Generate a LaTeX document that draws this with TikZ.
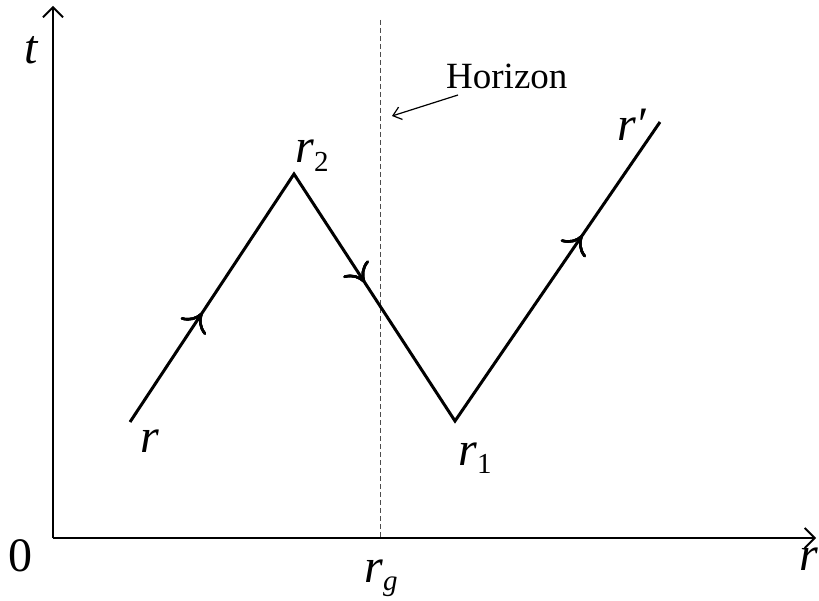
\documentclass[tikz,border=0pt]{standalone}
\usepackage{fontspec}
\setmainfont{Liberation Serif}
\usetikzlibrary{arrows.meta,decorations.markings}
\tikzset{
  axisline/.style={line width=1.8pt,-{Straight Barb[length=10pt,width=20pt,line width=1.8pt]}},
  traj/.style={line width=3pt,line join=miter},
  midtip/.style={decoration={markings,mark=at position #1 with {\arrow{Computer Modern Rightarrow[length=17pt,width=30pt,line width=2.6pt]}}},postaction={decorate}},
  horline/.style={line width=1pt,dash pattern=on 5pt off 3pt,draw=black!70},
  pointer/.style={line width=1.2pt,-{Straight Barb[length=8pt,width=13pt,line width=1.2pt]}},
  biglab/.style={font=\fontsize{48}{48}\selectfont,inner sep=0pt},
  midlab/.style={font=\fontsize{37}{37}\selectfont,inner sep=0pt}
}
\newcommand{\subsc}[1]{\raisebox{-0.18em}{\fontsize{29}{29}\selectfont #1}}
\begin{document}
\begin{tikzpicture}[x=1pt,y=-1pt]
\useasboundingbox (0,0) rectangle (819,601);
\coordinate (O) at (53,538);
\coordinate (ytop) at (53,6);
\coordinate (xend) at (816,538);
\coordinate (htop) at (380,20);
\coordinate (hbot) at (380,538);
\coordinate (A) at (130,422);
\coordinate (B) at (294,174);
\coordinate (C) at (455,421);
\coordinate (D) at (660,122);
\coordinate (p1) at (458,95);
\coordinate (p2) at (392,116);
\draw[horline] (htop) -- (hbot);
\draw[axisline] (O) -- (ytop);
\draw[axisline] (O) -- (xend);
\draw[traj,midtip=0.137,midtip=0.447,midtip=0.856] (A) -- (B) -- (C) -- (D);
\draw[pointer] (p1) -- (p2);
\node[biglab] (tl) at (32,50) {\textit{t}};
\node[biglab] (zl) at (21,556) {0};
\node[biglab] (rl) at (809,559) {\textit{r}};
\node[biglab,anchor=base west] (rgl) at (364,582) {\textit{r}\subsc{\textit{g}}};
\node[biglab,anchor=base west] (ral) at (140,452) {\textit{r}};
\node[biglab,anchor=base west] (r2l) at (295,163) {\textit{r}\subsc{2}};
\node[biglab,anchor=base west] (r1l) at (458,465) {\textit{r}\subsc{1}};
\node[biglab,anchor=base west] (rpl) at (617,141) {\textit{r′}};
\node[midlab,anchor=base west] (hl) at (446,89) {Horizon};
\end{tikzpicture}
\end{document}
